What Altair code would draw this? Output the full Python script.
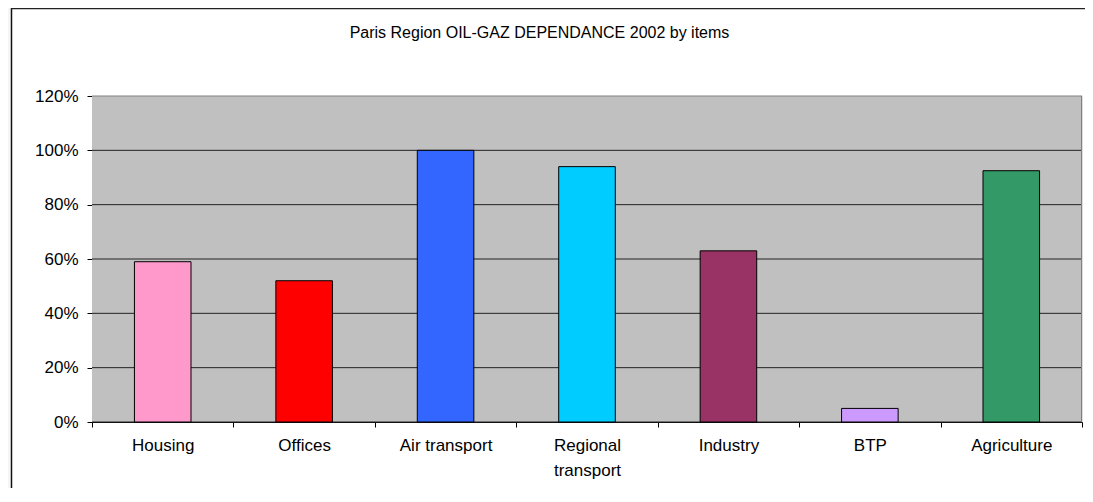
import altair as alt
import pandas as pd

categories = ["Housing", "Offices", "Air transport", "Regional transport",
              "Industry", "BTP", "Agriculture"]
values = [0.59, 0.52, 1.00, 0.94, 0.63, 0.05, 0.925]
colors = ["#FF99CC", "#FF0000", "#3366FF", "#00CCFF", "#993366", "#CC99FF", "#339966"]
y_ticks = [0, 0.2, 0.4, 0.6, 0.8, 1.0, 1.2]
title_text = "Paris Region OIL-GAZ  DEPENDANCE 2002 by items"

df = pd.DataFrame({"item": categories, "share": values})
grid_df = pd.DataFrame({"v": y_ticks})
one = pd.DataFrame({"t": [title_text]})

W, H = 990, 326
FONT = "Liberation Sans"
PADL, PADT, PADR, PADB = 84, 88, 3, 66

yscale = alt.Scale(domain=[0, 1.2], nice=False)
yaxis = alt.Axis(title=None, values=y_ticks, format=".0%", labelFontSize=17,
                 labelColor="black", labelFont=FONT, tickSize=5, tickColor="black",
                 domainColor="black", labelPadding=9, grid=False)

bars = alt.Chart(df).mark_bar(
    stroke="black", strokeWidth=1, width=alt.RelativeBandSize(0.4)
).encode(
    x=alt.X("item:N", sort=categories,
            scale=alt.Scale(paddingInner=0, paddingOuter=0),
            axis=alt.Axis(title=None, labelAngle=0, labelFontSize=17, labelColor="black",
                          labelFont=FONT, labelLineHeight=25, tickBand="extent",
                          tickSize=5, tickColor="black", domainColor="black",
                          labelPadding=10, grid=False, labelOverlap=False,
                          labelExpr="datum.value == 'Regional transport' ? ['Regional', 'transport'] : datum.value")),
    y=alt.Y("share:Q", scale=yscale, axis=yaxis),
    color=alt.Color("item:N", scale=alt.Scale(domain=categories, range=colors), legend=None),
)

plot_bg = alt.Chart(one).mark_rect(color="#C0C0C0").encode(
    x=alt.value(0), x2=alt.value(W), y=alt.value(0), y2=alt.value(H))

gridlines = alt.Chart(grid_df).mark_rule(strokeWidth=1).encode(
    y=alt.Y("v:Q", scale=yscale, axis=yaxis),
    x=alt.value(0), x2=alt.value(W),
    color=alt.condition("datum.v >= 1.2", alt.value("#808080"), alt.value("#222222")),
)

right_border = alt.Chart(one).mark_rule(color="#808080", strokeWidth=1).encode(
    x=alt.value(W - 0.5), y=alt.value(0), y2=alt.value(H))

title = alt.Chart(one).mark_text(
    font=FONT, fontSize=16, align="center", baseline="middle", color="black"
).encode(text="t:N", x=alt.value(447.5), y=alt.value(-63))

strip = alt.Chart(one).mark_rect(color="#f6f6f6").encode(
    x=alt.value(-PADL), x2=alt.value(-81), y=alt.value(-PADT), y2=alt.value(H + PADB))
frame_left = alt.Chart(one).mark_rule(color="#111111", strokeWidth=1.5).encode(
    x=alt.value(-80.5), y=alt.value(-PADT), y2=alt.value(H + PADB))
frame_top = alt.Chart(one).mark_rule(color="#222222", strokeWidth=1.5).encode(
    x=alt.value(-81), x2=alt.value(W + PADR), y=alt.value(-PADT + 0.5))

chart = alt.layer(strip, frame_left, frame_top, plot_bg, gridlines, right_border,
                  bars, title).properties(
    width=W, height=H,
    padding={"left": PADL, "top": PADT, "right": PADR, "bottom": PADB},
    autosize=alt.AutoSizeParams(type="none"),
    background="white",
).configure_view(fill="#C0C0C0", stroke="#808080", strokeWidth=1).configure(font=FONT)

chart.save("out.html", embed_options={"renderer": "svg", "actions": False})
